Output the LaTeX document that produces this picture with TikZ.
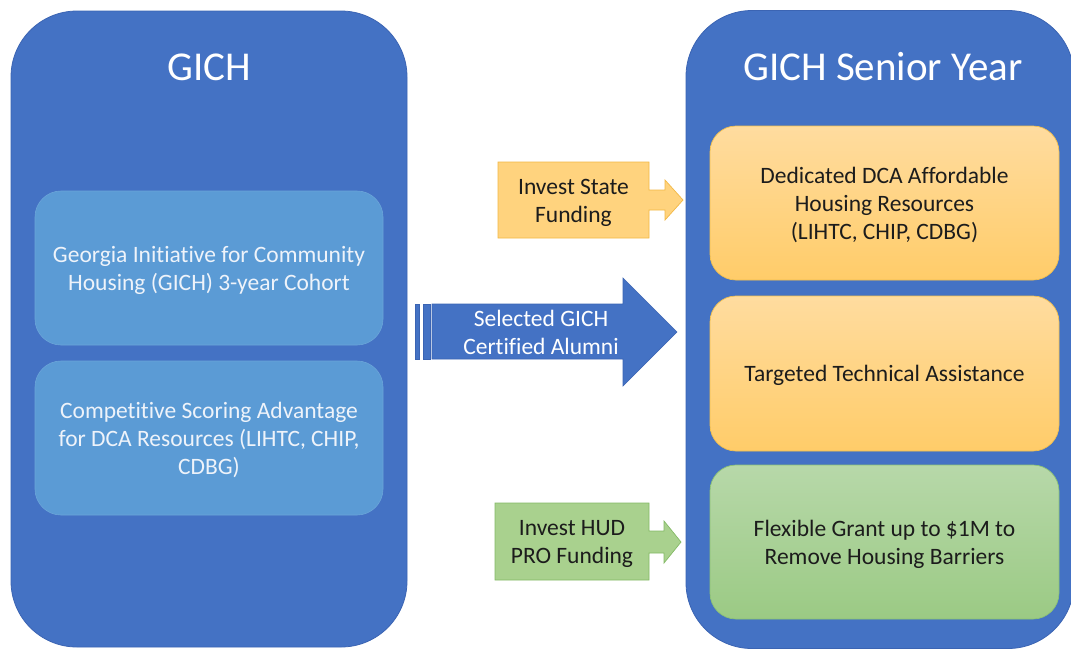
\documentclass[tikz,border=0pt]{standalone}
\usepackage{fontspec}
\setmainfont{Carlito}[Ligatures={NoCommon}]
\definecolor{panelblue}{HTML}{4472C4}
\definecolor{panelline}{HTML}{3B64B3}
\definecolor{cellblue}{HTML}{5B9BD5}
\definecolor{celltext}{HTML}{EEF3FA}
\definecolor{goldtop}{HTML}{FFDC9F}
\definecolor{goldbot}{HTML}{FFCC69}
\definecolor{goldline}{HTML}{F3C04E}
\definecolor{greentop}{HTML}{B7D8A9}
\definecolor{greenbot}{HTML}{9BCA84}
\definecolor{greenline}{HTML}{8DC275}
\definecolor{callgold}{HTML}{FFD37E}
\definecolor{callgoldline}{HTML}{F2B845}
\definecolor{callgreen}{HTML}{A9D18E}
\definecolor{callgreenline}{HTML}{84BA66}
\definecolor{darktext}{HTML}{1C1C1C}
\begin{document}
\begin{tikzpicture}[x=1pt,y=-1pt,
  panel/.style={draw=panelline, line width=0.8pt, fill=panelblue, rounded corners=66pt, inner sep=0pt},
  paneltitle/.style={text=white, font=\fontsize{41}{49}\selectfont, inner sep=0pt},
  bodytext/.style={font=\fontsize{23.5}{28}\selectfont, align=center, inner sep=0pt},
  oneline/.style={text height=20.5pt},
  twolines/.style={text height=48.5pt},
  threelines/.style={text height=76.5pt},
  leftcell/.style={bodytext, fill=cellblue, draw=cellblue!90!white, line width=0.6pt, rounded corners=26pt,
    minimum width=348pt, minimum height=154pt, text=celltext},
  goldcell/.style={bodytext, top color=goldtop, bottom color=goldbot, draw=goldline, line width=0.7pt,
    rounded corners=26pt, minimum width=349pt, minimum height=154pt, text=darktext},
  greencell/.style={bodytext, top color=greentop, bottom color=greenbot, draw=greenline, line width=0.7pt,
    rounded corners=26pt, minimum width=349pt, minimum height=154pt, text=darktext},
  calltext/.style={bodytext, text=darktext},
]
\useasboundingbox[fill=white] (0,0) rectangle (1071,649);
\clip (0,0) rectangle (1071,649);

% two large panels
\node[panel, minimum width=396pt, minimum height=636pt] (gich) at (209,329) {};
\node[panel, minimum width=388pt, minimum height=638pt] (senior) at (880,329.5) {};

\node[paneltitle] (gichtitle) at (209,67) {GICH};
\node[paneltitle] (seniortitle) at (883,67) {GICH Senior Year};

% cells of the left panel
\node[leftcell, twolines] (cohort) at (209,268) {Georgia Initiative for Community\\Housing (GICH) 3-year Cohort};
\node[leftcell, threelines] (scoring) at (209,438) {Competitive Scoring Advantage\\for DCA Resources (LIHTC, CHIP,\\CDBG)};

% cells of the right panel
\node[goldcell, threelines] (dedicated) at (884.5,203) {Dedicated DCA Affordable\\Housing Resources\\(LIHTC, CHIP, CDBG)};
\node[goldcell, oneline, minimum height=155pt] (technical) at (884.5,373.5) {Targeted Technical Assistance};
\node[greencell, twolines] (grant) at (884.5,542) {Flexible Grant up to \$1M to\\Remove Housing Barriers};

% striped arrow between the panels
\fill[panelblue, draw=panelline, line width=0.6pt] (415,304) rectangle (419,359);
\fill[panelblue, draw=panelline, line width=0.6pt] (423,304) rectangle (430,359);
\filldraw[fill=panelblue, draw=panelline, line width=0.6pt]
  (432,304) -- (623,304) -- (623,278) -- (677,332) -- (623,386) -- (623,359) -- (432,359) -- cycle;
\node[bodytext, text=white] (alumni) at (541,332) {Selected GICH\\Certified Alumni};

% arrow callout: state funding
\filldraw[fill=callgold, draw=callgoldline, line width=0.7pt]
  (498,162) -- (649,162) -- (649,190) -- (665,190) -- (665,180) -- (683,200)
  -- (665,220) -- (665,210) -- (649,210) -- (649,238) -- (498,238) -- cycle;
\node[calltext, twolines] (state) at (573.5,200) {Invest State\\Funding};

% arrow callout: HUD PRO funding
\filldraw[fill=callgreen, draw=callgreenline, line width=0.7pt]
  (495,503) -- (649,503) -- (649,531) -- (664,531) -- (664,521) -- (681,542)
  -- (664,563) -- (664,553) -- (649,553) -- (649,580) -- (495,580) -- cycle;
\node[calltext, twolines] (hud) at (572,541) {Invest HUD\\PRO Funding};
\end{tikzpicture}
\end{document}
